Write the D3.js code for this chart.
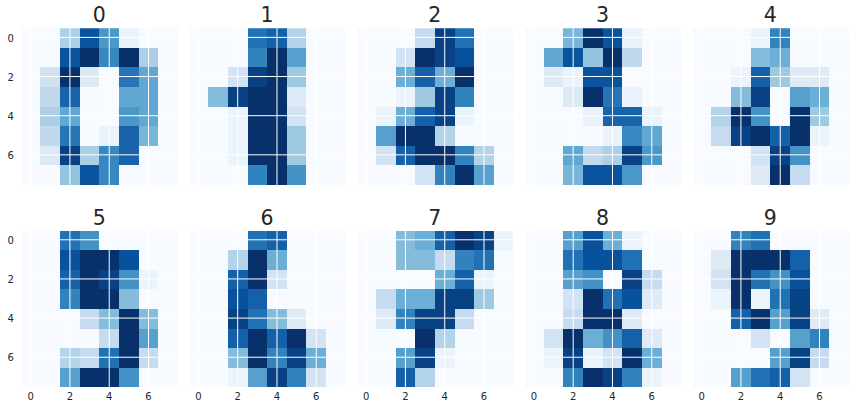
<!DOCTYPE html>
<html>
<head>
<meta charset="utf-8">
<script src="https://cdn.jsdelivr.net/npm/d3@7"></script>
<style>
  html, body { margin: 0; padding: 0; background: #fff; }
  svg { display: block; }
</style>
</head>
<body>
<div id="chart"></div>
<script>
const digit0 = [[0,0,5,13,9,1,0,0],[0,0,13,15,10,15,5,0],[0,3,15,2,0,11,8,0],[0,4,12,0,0,8,8,0],[0,5,8,0,0,9,8,0],[0,4,11,0,1,12,7,0],[0,2,14,5,10,12,0,0],[0,0,6,13,10,0,0,0]];
const digit1 = [[0,0,0,12,13,5,0,0],[0,0,0,11,16,9,0,0],[0,0,3,15,16,6,0,0],[0,7,15,16,16,2,0,0],[0,0,1,16,16,3,0,0],[0,0,1,16,16,6,0,0],[0,0,1,16,16,6,0,0],[0,0,0,11,16,10,0,0]];
const digit2 = [[0,0,0,4,15,12,0,0],[0,0,3,16,15,14,0,0],[0,0,8,13,8,16,0,0],[0,0,1,6,15,11,0,0],[0,1,8,13,15,1,0,0],[0,9,16,16,5,0,0,0],[0,3,13,16,16,11,5,0],[0,0,0,3,11,16,9,0]];
const digit3 = [[0,0,7,15,13,1,0,0],[0,8,13,6,15,4,0,0],[0,2,1,13,13,0,0,0],[0,0,2,15,11,1,0,0],[0,0,0,1,12,12,1,0],[0,0,0,0,1,10,8,0],[0,0,8,4,5,14,9,0],[0,0,7,13,13,9,0,0]];
const digit4 = [[0,0,0,1,11,0,0,0],[0,0,0,7,8,0,0,0],[0,0,1,13,6,2,2,0],[0,0,7,15,0,9,8,0],[0,5,16,10,0,16,6,0],[0,4,15,16,13,16,1,0],[0,0,0,3,15,10,0,0],[0,0,0,2,16,4,0,0]];
const digit5 = [[0,0,12,10,0,0,0,0],[0,0,14,16,16,14,0,0],[0,0,13,16,15,10,1,0],[0,0,11,16,16,7,0,0],[0,0,0,4,7,16,7,0],[0,0,0,0,4,16,9,0],[0,0,5,4,12,16,4,0],[0,0,9,16,16,10,0,0]];
const digit6 = [[0,0,0,12,13,0,0,0],[0,0,5,16,8,0,0,0],[0,0,13,16,3,0,0,0],[0,0,14,13,0,0,0,0],[0,0,15,12,7,2,0,0],[0,0,13,16,13,16,3,0],[0,0,7,16,11,15,8,0],[0,0,1,9,15,11,3,0]];
const digit7 = [[0,0,7,8,13,16,15,1],[0,0,7,7,4,11,12,0],[0,0,0,0,8,13,1,0],[0,4,8,8,15,15,6,0],[0,2,11,15,15,4,0,0],[0,0,0,16,5,0,0,0],[0,0,9,15,1,0,0,0],[0,0,13,5,0,0,0,0]];
const digit8 = [[0,0,9,14,8,1,0,0],[0,0,12,14,14,12,0,0],[0,0,9,10,0,15,4,0],[0,0,3,16,12,14,2,0],[0,0,4,16,16,2,0,0],[0,3,16,8,10,13,2,0],[0,1,15,1,3,16,8,0],[0,0,11,16,15,11,1,0]];
const digit9 = [[0,0,11,12,0,0,0,0],[0,2,16,16,16,13,0,0],[0,3,16,12,10,14,0,0],[0,1,16,1,12,15,0,0],[0,0,13,16,9,15,2,0],[0,0,0,3,0,9,11,0],[0,0,0,0,9,15,4,0],[0,0,9,12,13,3,0,0]];
const digits = [digit0, digit1, digit2, digit3, digit4, digit5, digit6, digit7, digit8, digit9];
const titles = ["0", "1", "2", "3", "4", "5", "6", "7", "8", "9"];
const tickLabels = [0, 2, 4, 6];

let width = 856, height = 411;
let panelW = 157.2, panelH = 156.6,
    stepX = 167.75,
    left = 20.8,
    tops = [28.3, 230.7];

let svg = d3.select("#chart")
    .append("svg")
    .attr("width", width)
    .attr("height", height);

// matplotlib Blues is a straight piecewise ramp, not d3's smoothed spline
const blues = d3.schemeBlues[9];

digits.forEach((img, k) => {
    let col = k % 5, row = Math.floor(k / 5);

    let x = d3.scaleLinear().domain([-0.5, 7.5]).range([0, panelW]);
    let y = d3.scaleLinear().domain([-0.5, 7.5]).range([0, panelH]);

    // imshow normalises each picture to its own range
    let vmax = d3.max(img, r => d3.max(r));
    let color = d3.scaleLinear()
        .domain(blues.map((c, i) => i / 8 * vmax))
        .range(blues);

    let g = svg.append("g")
        .attr("transform", "translate(" + (left + col * stepX) + "," + tops[row] + ")");

    g.append("clipPath")
        .attr("id", "clip" + k)
        .append("rect")
        .attr("x", 1.2)
        .attr("width", panelW - 1.2)
        .attr("height", panelH);

    let cells = img.flatMap((r, i) => r.map((v, j) => ({ i, j, v })));
    g.append("g")
        .attr("clip-path", "url(#clip" + k + ")")
        .selectAll("rect")
        .data(cells)
        .enter()
        .append("rect")
        .attr("x", d => x(d.j - 0.5))
        .attr("y", d => y(d.i - 0.5))
        .attr("width", x(1) - x(0))
        .attr("height", y(1) - y(0))
        .attr("fill", d => color(d.v))
        .attr("shape-rendering", "crispEdges");

    // the grid comes from the axes, labels only on the outer panels
    let axisX = d3.axisBottom(x).tickValues(tickLabels).tickSize(-panelH).tickPadding(6).offset(0);
    let axisY = d3.axisLeft(y).tickValues(tickLabels).tickSize(-panelW).tickPadding(7).offset(-0.7);
    if (row === 0) axisX.tickFormat("");
    if (col !== 0) axisY.tickFormat("");

    let gx = g.append("g").attr("transform", "translate(0," + panelH + ")").call(axisX);
    let gy = g.append("g").call(axisY);
    gy.selectAll("text").attr("dy", "0.42em");

    [gx, gy].forEach(a => {
        a.select(".domain").remove();
        a.selectAll("line").attr("stroke", "#fff").attr("stroke-width", 1);
        a.selectAll("text")
            .attr("fill", "#262626")
            .style("font-family", "'DejaVu Sans', sans-serif")
            .style("font-size", "10px");
    });

    g.append("text")
        .attr("x", panelW / 2)
        .attr("y", -6)
        .attr("text-anchor", "middle")
        .attr("fill", "#262626")
        .style("font-family", "'DejaVu Sans', sans-serif")
        .style("font-size", "20.5px")
        .text(titles[k]);
});
</script>
</body>
</html>
